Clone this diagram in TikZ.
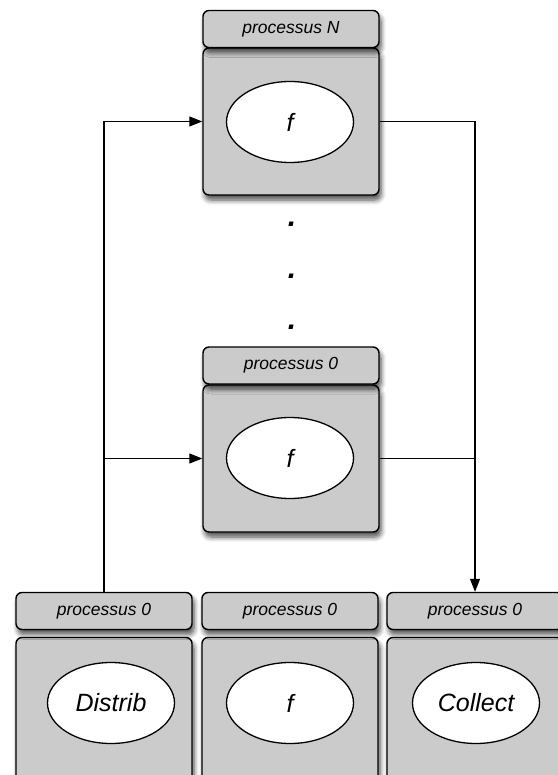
\documentclass[tikz,border=0pt]{standalone}
\usepackage{fontspec}
\setmainfont{Liberation Sans}
\usetikzlibrary{arrows.meta,shadows.blur,shapes.geometric}
\definecolor{boxgray}{HTML}{CBCBCB}
\begin{document}
\begin{tikzpicture}[x=1pt,y=-1pt,
  procbox/.style={draw=black, line width=1.4pt, fill=boxgray, rounded corners=6pt,
    minimum width=176pt, inner sep=0pt,
    blur shadow={shadow xshift=2pt, shadow yshift=-5pt, shadow blur steps=6, shadow blur radius=5pt, shadow opacity=70}},
  head/.style={procbox, minimum height=37pt, font=\itshape\fontsize{17.5pt}{20pt}\selectfont},
  body/.style={procbox, minimum height=147pt},
  fn/.style={draw=black, line width=1.3pt, fill=white, ellipse, minimum width=127pt, minimum height=81pt, inner sep=0pt, font=\itshape\fontsize{25pt}{28pt}\selectfont},
  link/.style={line width=1.2pt},
  arr/.style={link, -{Triangle[length=13pt,width=10pt]}},
  dotmark/.style={font=\bfseries\itshape\fontsize{30pt}{32pt}\selectfont, inner sep=0pt}
]
\useasboundingbox (0,0) rectangle (557,775);

% top process
\node[body] (topb) at (291,121.5) {};
\node[head] (toph) at (291,29) {processus N};
\node[fn] (topf) at (290,122) {f};

% dots
\node[dotmark] (d1) at (292,224) {.};
\node[dotmark] (d2) at (292,276) {.};
\node[dotmark] (d3) at (292,327) {.};

% middle process
\node[body] (midb) at (291,458.5) {};
\node[head] (midh) at (291,365.5) {processus 0};
\node[fn] (midf) at (290,458) {f};

% bottom row
\node[body] (db) at (104,711) {};
\node[head] (dh) at (104,611) {processus 0};
\node[fn] (df) at (111,703) {Distrib};

\node[body] (fb) at (290,711) {};
\node[head] (fh) at (290,611) {processus 0};
\node[fn] (ff) at (290,703) {f};

\node[body] (cb) at (475,711) {};
\node[head] (ch) at (475,611) {processus 0};
\node[fn] (cf) at (476,703) {Collect};

% connectors
\draw[arr] (dh.north) |- (topb.west);
\draw[arr] (dh.north) |- (midb.west);
\draw[arr] (topb.east) -| (ch.north);
\draw[link] (midb.east) -- (midb.east -| ch.north);
\end{tikzpicture}
\end{document}
